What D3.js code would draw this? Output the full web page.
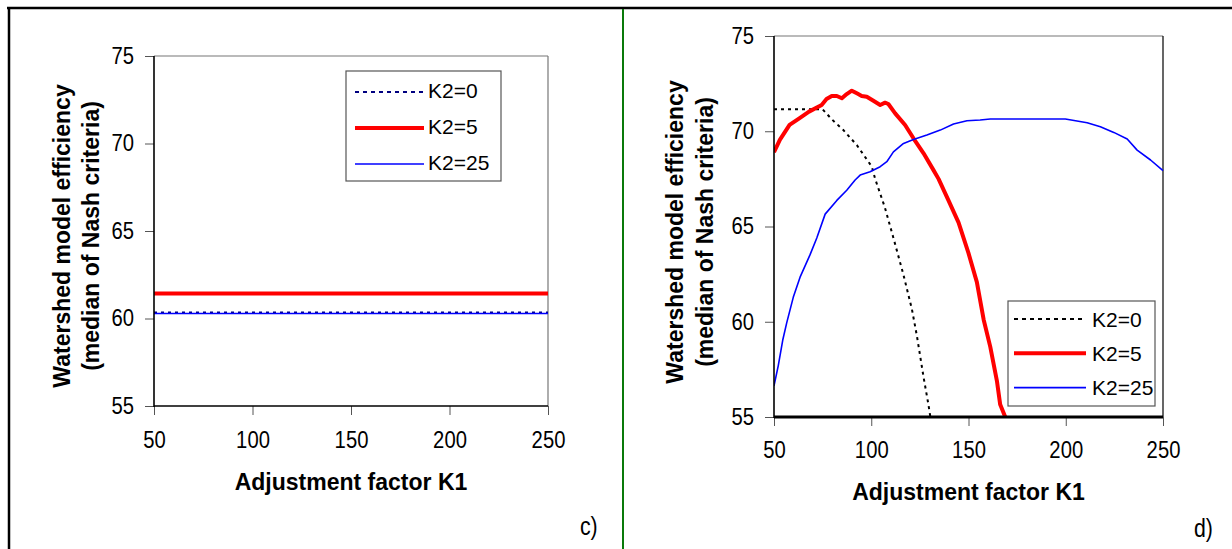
<!DOCTYPE html>
<html><head><meta charset="utf-8">
<script src="https://cdn.jsdelivr.net/npm/d3@7"></script>
<style>
html,body{margin:0;padding:0;background:#fff;}
svg text{font-family:"Liberation Sans",Arial,sans-serif;}
</style></head>
<body>
<script>
// ---------- data ----------
const xTicks = [50, 100, 150, 200, 250];
const yTicks = [55, 60, 65, 70, 75];
const seriesNames = ["K2=0", "K2=5", "K2=25"];

// panel c) : constant lines
const cK1 = [50, 250];
const cK2_0 = [60.35, 60.35];
const cK2_5 = [61.43, 61.43];
const cK2_25 = [60.29, 60.29];

// panel d)
const dK1_0 = [50, 55, 60, 65, 70, 75, 80, 85.7, 92.6, 100.3, 102, 107, 111.4, 116.6, 120.9, 123.5, 126.9, 129.4, 130.7, 133];
const dK2_0 = [71.15, 71.15, 71.15, 71.15, 71.15, 71.15, 70.6, 70.06, 69.27, 68.14, 67.5, 66.0, 64.4, 62.45, 60.66, 59.24, 57.09, 55.65, 54.8, 53.5];

const dK1_5 = [50, 53, 58, 63, 68, 74.5, 77, 79.7, 82.3, 84.9, 87.4, 90, 92.6, 95.1, 97.7, 101.1, 104.6, 107.1, 108.8, 112.3, 117.4, 121.7, 126.9, 132, 134.6, 139.7, 144.9, 150, 154.3, 157.8, 161.2, 164.6, 166.3, 168.9, 170];
const dK2_5 = [68.9, 69.55, 70.33, 70.68, 71.03, 71.38, 71.69, 71.85, 71.85, 71.73, 71.95, 72.13, 71.99, 71.85, 71.81, 71.6, 71.38, 71.5, 71.43, 70.94, 70.33, 69.63, 68.84, 67.96, 67.5, 66.37, 65.2, 63.6, 62.08, 60.11, 58.68, 56.9, 55.65, 55.0, 54.5];

const dK1_25 = [50, 52.2, 54.5, 56.5, 59.9, 63.4, 68.5, 72, 76.3, 82.3, 87.4, 91.7, 94.3, 99.4, 104.6, 108, 111.4, 116.6, 121.7, 128.6, 135.5, 142.3, 149.2, 156, 161.2, 171.5, 199.8, 211, 217.8, 224.7, 231.6, 236.7, 243.6, 250];
const dK2_25 = [56.63, 57.7, 59.04, 59.93, 61.28, 62.34, 63.51, 64.4, 65.65, 66.37, 66.9, 67.44, 67.7, 67.87, 68.14, 68.4, 68.92, 69.36, 69.57, 69.8, 70.06, 70.38, 70.55, 70.59, 70.64, 70.64, 70.64, 70.45, 70.24, 69.94, 69.59, 69.01, 68.49, 67.93];

// ---------- drawing ----------
const W = 1232, H = 549;
const svg = d3.select("body").append("svg").attr("width", W).attr("height", H);

// outer frame
svg.append("line").attr("x1", 7).attr("x2", W).attr("y1", 8).attr("y2", 8).attr("stroke", "#000").attr("stroke-width", 2.5);
svg.append("line").attr("x1", 9).attr("x2", 9).attr("y1", 7).attr("y2", H).attr("stroke", "#000").attr("stroke-width", 2.5);
svg.append("line").attr("x1", 623).attr("x2", 623).attr("y1", 9).attr("y2", H).attr("stroke", "#0a7a0a").attr("stroke-width", 2);

const styles = [
  {stroke: null, width: 2, dash: "3,4"},
  {stroke: "#ff0000", width: 4, dash: null},
  {stroke: "#0000ff", width: 1.6, dash: null}
];
const SX = 0.88; // narrow tick-label glyphs

function panel(cfg) {
  const x = d3.scaleLinear().domain([50, 250]).range([cfg.x0, cfg.x1]);
  const y = d3.scaleLinear().domain([55, 75]).range([cfg.y1, cfg.y0]);
  const g = svg.append("g");

  // y axis
  const ya = g.append("g").attr("transform", `translate(${cfg.x0},0)`)
    .call(d3.axisLeft(y).tickValues(yTicks).tickSize(9).tickPadding(11).tickFormat(d3.format("d")));
  ya.select(".domain").remove();
  ya.selectAll(".tick line").attr("stroke", "#555");
  ya.selectAll("text").attr("font-size", 23).attr("fill", "#000")
    .attr("x", -20 / SX).attr("transform", `scale(${SX},1)`);

  const xa = g.append("g").attr("transform", `translate(0,${cfg.y1})`)
    .call(d3.axisBottom(x).tickValues(xTicks).tickSize(9).tickPadding(cfg.xpad).tickFormat(d3.format("d")));
  xa.select(".domain").remove();
  xa.selectAll(".tick line").attr("stroke", "#555");
  xa.selectAll("text").attr("font-size", 23).attr("fill", "#000").attr("transform", `scale(${SX},1)`);

  // frame
  g.append("line").attr("x1", cfg.x0).attr("x2", cfg.x1).attr("y1", cfg.y0).attr("y2", cfg.y0).attr("stroke", "#777").attr("stroke-width", 1.2);
  g.append("line").attr("x1", cfg.x1).attr("x2", cfg.x1).attr("y1", cfg.y0).attr("y2", cfg.y1).attr("stroke", cfg.rightCol).attr("stroke-width", 1.2);

  // clip
  const cid = "clip" + cfg.id;
  svg.append("clipPath").attr("id", cid).append("rect")
    .attr("x", cfg.x0).attr("y", cfg.y0 - 5).attr("width", cfg.x1 - cfg.x0 + 3).attr("height", cfg.y1 - cfg.y0 + 5);
  const lines = g.append("g").attr("clip-path", `url(#${cid})`);
  const line = d3.line().x(d => x(d[0])).y(d => y(d[1]));

  cfg.series.forEach((s, i) => {
    const st = styles[i];
    const pts = s.k1.map((k, j) => [k, s.v[j]]);
    lines.append("path").datum(pts).attr("d", line)
      .attr("fill", "none")
      .attr("stroke", i === 0 ? cfg.dotCol : st.stroke)
      .attr("stroke-width", st.width)
      .attr("stroke-dasharray", st.dash)
      .attr("stroke-linejoin", "round");
  });

  // axis lines (left and bottom)
  g.append("line").attr("x1", cfg.x0).attr("x2", cfg.x0).attr("y1", cfg.y0).attr("y2", cfg.y1 + 1).attr("stroke", "#000").attr("stroke-width", 1.6);
  g.append("line").attr("x1", cfg.x0).attr("x2", cfg.x1).attr("y1", cfg.y1).attr("y2", cfg.y1).attr("stroke", "#000").attr("stroke-width", cfg.bottomW);

  // legend
  const L = cfg.legend;
  g.append("rect").attr("x", L.x).attr("y", L.y).attr("width", L.w).attr("height", L.h)
    .attr("fill", "#fff").attr("stroke", "#555").attr("stroke-width", 1.2);
  seriesNames.forEach((n, i) => {
    const st = styles[i];
    const ly = L.y + L.first + i * L.step;
    g.append("line").attr("x1", L.lx0).attr("x2", L.lx1).attr("y1", ly).attr("y2", ly)
      .attr("stroke", i === 0 ? cfg.dotCol : st.stroke)
      .attr("stroke-width", st.width).attr("stroke-dasharray", i === 0 ? "4,4" : null);
    g.append("text").attr("x", L.tx).attr("y", ly + L.tdy).attr("dominant-baseline", "central")
      .attr("font-size", 21).text(n);
  });

  // titles
  g.append("text").attr("x", (cfg.x0 + cfg.x1) / 2).attr("y", cfg.xtY).attr("text-anchor", "middle")
    .attr("font-size", 23).attr("font-weight", "bold").text("Adjustment factor K1");
  g.append("text").attr("transform", `translate(${cfg.yt1},${cfg.ytC}) rotate(-90)`).attr("text-anchor", "middle")
    .attr("font-size", 23).attr("font-weight", "bold").text("Watershed model efficiency");
  g.append("text").attr("transform", `translate(${cfg.yt2},${cfg.ytC}) rotate(-90)`).attr("text-anchor", "middle")
    .attr("font-size", 23).attr("font-weight", "bold").text("(median of Nash criteria)");

  g.append("text").attr("x", cfg.lab[0]).attr("y", cfg.lab[1]).attr("font-size", 25)
    .attr("font-family", "'Liberation Sans Narrow','Liberation Sans',Arial,sans-serif")
    .attr("transform", `translate(${cfg.lab[0]},${cfg.lab[1]}) scale(0.85,1) translate(${-cfg.lab[0]},${-cfg.lab[1]})`)
    .text(cfg.labText);
}

panel({
  id: "c", x0: 154, x1: 548, y0: 56, y1: 406, xpad: 17, rightCol: "#777", bottomW: 1.4,
  dotCol: "#000080",
  series: [{k1: cK1, v: cK2_0}, {k1: cK1, v: cK2_5}, {k1: cK1, v: cK2_25}],
  legend: {x: 346, y: 71, w: 155, h: 110, first: 21, step: 36, lx0: 355, lx1: 424, tx: 428, tdy: -2},
  xtY: 490, yt1: 70, yt2: 98.5, ytC: 236, lab: [580, 535], labText: "c)"
});

panel({
  id: "d", x0: 774, x1: 1163, y0: 36, y1: 417, xpad: 16, rightCol: "#000", bottomW: 3,
  dotCol: "#000",
  series: [{k1: dK1_0, v: dK2_0}, {k1: dK1_5, v: dK2_5}, {k1: dK1_25, v: dK2_25}],
  legend: {x: 1008, y: 301, w: 147, h: 105, first: 18, step: 34.3, lx0: 1014, lx1: 1086, tx: 1092, tdy: 0},
  xtY: 500, yt1: 682.5, yt2: 713, ytC: 232, lab: [1194, 537], labText: "d)"
});
</script>
</body></html>
